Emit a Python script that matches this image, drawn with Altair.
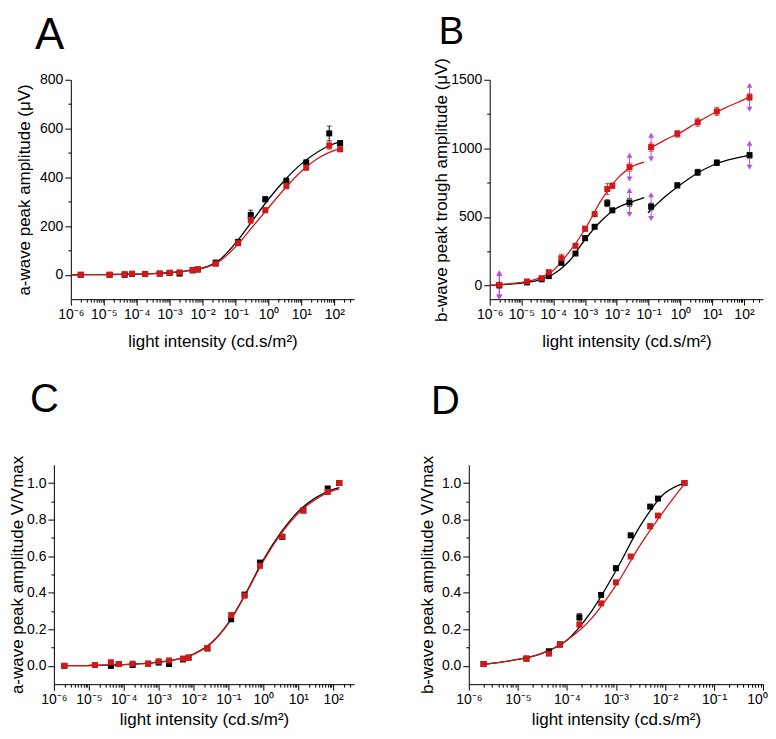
import altair as alt
import pandas as pd

FONT = "Liberation Sans"
BLACK = "#000000"
RED = "#d11919"
PURPLE = "#b84ee6"

# light intensities (cd.s/m2)
INTENSITY = [2.0e-6, 1.5e-5, 4.3e-5, 7.2e-5, 1.8e-4, 5.0e-4, 1.0e-3, 2.0e-3, 5.0e-3, 7.2e-3,
             2.5e-2, 0.12, 0.29, 0.8, 3.5, 14, 70, 150]

# ---- Panel A : a-wave amplitude (uV)
A_BLACK = [0, 0, 0, 4, 3, 5, 8, 5, 18, 22, 50, 135, 245, 310, 385, 460, 580, 540]
A_BLACK_ERR = [2, 2, 2, 2, 2, 2, 3, 3, 4, 4, 6, 8, 20, 10, 12, 12, 30, 10]
A_RED = [0, 0, 3, 4, 3, 5, 8, 10, 20, 22, 45, 130, 225, 265, 365, 440, 530, 515]
A_RED_ERR = [2, 2, 2, 2, 2, 2, 3, 3, 4, 4, 6, 8, 15, 10, 12, 12, 15, 10]
A_CURVE_X = [1e-6, 3.2e-6, 1e-5, 3.2e-5, 1e-4, 3.2e-4, 1e-3, 3.2e-3, 1e-2, 3.2e-2,
             0.1, 0.32, 1, 3.2, 10, 32, 100, 160]
A_CURVE_BLACK = [0, 0.5, 1, 2, 3, 5, 9, 16, 28, 60, 130, 220, 310, 390, 455, 505, 538, 546]
A_CURVE_RED = [0, 0.5, 1, 2, 3, 5, 8, 15, 26, 55, 115, 195, 275, 355, 425, 478, 510, 520]

# ---- Panel B : b-wave amplitude (uV)
B_X = [2.0e-6, 1.5e-5, 4.3e-5, 7.2e-5, 1.8e-4, 5.0e-4, 1.0e-3, 2.0e-3, 5.0e-3, 7.2e-3,
       2.5e-2, 0.12, 0.8, 3.5, 14, 150]
B_BLACK = [0, 22, 45, 68, 165, 233, 345, 428, 600, 548, 605, 575, 730, 825, 895, 950]
B_BLACK_ERR = [10, 8, 8, 10, 10, 12, 15, 15, 25, 15, 30, 25, 18, 22, 20, 20]
B_RED = [5, 29, 53, 97, 199, 289, 413, 520, 703, 727, 863, 1009, 1106, 1191, 1269, 1373]
B_RED_ERR = [10, 10, 10, 12, 30, 15, 20, 18, 40, 20, 30, 30, 25, 30, 30, 25]
B_SIG_INDEX = [0, 10, 11, 15]
B_LEFT_X = [1e-6, 3.2e-6, 1e-5, 3.2e-5, 1e-4, 3.2e-4, 1e-3, 3.2e-3, 1e-2, 3.2e-2, 7.2e-2]
B_LEFT_BLACK = [0, 8, 18, 38, 82, 178, 335, 470, 565, 612, 640]
B_LEFT_RED = [0, 10, 22, 50, 110, 245, 410, 620, 775, 870, 900]
B_RIGHT_X = [9.5e-2, 0.32, 1, 3.2, 10, 32, 100, 160]
B_RIGHT_BLACK = [530, 645, 735, 815, 875, 915, 942, 952]
B_RIGHT_RED = [990, 1060, 1115, 1185, 1250, 1305, 1355, 1378]

# ---- Panel C : normalised a-wave
C_BLACK = [0.0, 0.005, 0.0, 0.01, 0.005, 0.012, 0.018, 0.01, 0.035, 0.045, 0.095,
           0.255, 0.39, 0.565, 0.705, 0.85, 0.97, 1.0]
C_RED = [0.0, 0.005, 0.02, 0.01, 0.012, 0.012, 0.025, 0.03, 0.04, 0.045, 0.098,
         0.278, 0.384, 0.547, 0.707, 0.85, 0.951, 1.0]
C_ERR = [0.006] * 18
C_CURVE_X = [2e-6, 3.2e-6, 1e-5, 3.2e-5, 1e-4, 3.2e-4, 1e-3, 3.2e-3, 1e-2, 3.2e-2,
             0.1, 0.32, 1, 3.2, 10, 32, 100, 150]
C_CURVE_BLACK = [0.001, 0.001, 0.002, 0.004, 0.007, 0.012, 0.02, 0.036, 0.065, 0.125,
                 0.235, 0.40, 0.58, 0.73, 0.845, 0.92, 0.965, 0.975]
C_CURVE_RED = [0.001, 0.001, 0.002, 0.004, 0.007, 0.012, 0.02, 0.035, 0.063, 0.122,
               0.232, 0.395, 0.573, 0.722, 0.835, 0.912, 0.958, 0.968]

# ---- Panel D : normalised b-wave
D_X = [2.0e-6, 1.5e-5, 4.3e-5, 7.2e-5, 1.8e-4, 5.0e-4, 1.0e-3, 2.0e-3, 5.0e-3, 7.2e-3, 2.5e-2]
D_BLACK = [0.01, 0.04, 0.08, 0.118, 0.266, 0.388, 0.534, 0.714, 0.871, 0.915, 1.0]
D_RED = [0.01, 0.04, 0.067, 0.115, 0.226, 0.342, 0.457, 0.598, 0.764, 0.822, 1.0]
D_BLACK_ERR = [0.005, 0.005, 0.008, 0.008, 0.02, 0.01, 0.012, 0.01, 0.01, 0.01, 0.005]
D_RED_ERR = [0.005, 0.005, 0.01, 0.01, 0.012, 0.01, 0.01, 0.01, 0.015, 0.01, 0.005]
D_CURVE_X = [2e-6, 3.2e-6, 1e-5, 3.2e-5, 1e-4, 3.2e-4, 1e-3, 3.2e-3, 1e-2, 2.5e-2]
D_CURVE_BLACK = [0.008, 0.015, 0.035, 0.07, 0.14, 0.30, 0.52, 0.77, 0.945, 1.0]
D_CURVE_RED = [0.008, 0.015, 0.035, 0.07, 0.14, 0.26, 0.44, 0.665, 0.855, 0.995]

SUPERS = ["⁻⁶", "⁻⁵", "⁻⁴", "⁻³", "⁻²", "⁻¹", "⁰", "¹", "²"]
X_TITLE = "light intensity (cd.s/m²)"


def points_df(xs, black, black_err, red, red_err):
    rows = []
    for name, ys, errs in (("black", black, black_err), ("red", red, red_err)):
        for x, y, e in zip(xs, ys, errs):
            rows.append({"x": x, "y": y, "lo": y - e, "hi": y + e, "series": name})
    return pd.DataFrame(rows)


def curve_df(pieces):
    rows = []
    for seg, (name, xs, ys) in enumerate(pieces):
        for x, y in zip(xs, ys):
            rows.append({"x": x, "y": y, "series": name, "seg": f"{name}{seg}"})
    return pd.DataFrame(rows)


def x_axis(max_exp, max_val, title_pad, last_shift):
    vals = []
    for e in range(-6, max_exp + 1):
        for m in range(1, 10):
            v = float(f"{m}e{e}")
            if v <= max_val * 1.0001:
                vals.append(v)
    lg = "log(datum.value)/LN10"
    major = f"abs({lg} - round({lg})) < 0.000001"
    arr = "[" + ",".join(f"'{s}'" for s in SUPERS) + "]"
    kw = {}
    if last_shift:
        kw["labelOffset"] = {"condition": {"test": f"datum.value >= {max_val * 0.999}",
                                           "value": last_shift}, "value": 0}
    return alt.Axis(
        values=vals,
        title=X_TITLE,
        labelExpr=f"{major} ? '10' + {arr}[round({lg}) + 6] : ''",
        tickSize={"condition": {"test": major, "value": 6}, "value": 3},
        titlePadding=title_pad,
        **kw,
    )


def y_axis(values, major, fmt, title, title_padding, offset):
    return alt.Axis(
        values=values,
        format=fmt,
        title=title,
        labelExpr=f"({major}) ? datum.label : ''",
        tickSize={"condition": {"test": major, "value": 6}, "value": 3},
        titlePadding=title_padding,
        offset=offset,
    )


COLOR = alt.Color("series:N", scale=alt.Scale(domain=["black", "red"], range=[BLACK, RED]),
                  legend=None)


def panel(letter, lsize, ldx, ldy, pts, curves, xmax, max_exp, ydom, yvals, ymajor, yfmt,
          ytitle, tpad, width, height, x0, xtpad, last_shift=0, sig=None):
    xenc = alt.X("x:Q", scale=alt.Scale(type="log", domain=[1e-6, xmax], nice=False,
                                        range=[x0, width]),
                 axis=x_axis(max_exp, xmax, xtpad, last_shift))
    yaxis = y_axis(yvals, ymajor, yfmt, ytitle, tpad, -x0)
    yscale = alt.Scale(domain=ydom, nice=False, zero=False)
    yenc = alt.Y("y:Q", scale=yscale, axis=yaxis)

    line = alt.Chart(curves).mark_line(strokeWidth=1.3, interpolate="monotone").encode(
        x=xenc, y=yenc, color=COLOR, detail="seg:N")
    rule = alt.Chart(pts).mark_rule(strokeWidth=1).encode(
        x=xenc, y=alt.Y("lo:Q", scale=yscale, axis=yaxis), y2="hi:Q", color=COLOR)
    cap_lo = alt.Chart(pts).mark_tick(orient="horizontal", size=5, thickness=1).encode(
        x=xenc, y=alt.Y("lo:Q", scale=yscale, axis=yaxis), color=COLOR)
    cap_hi = alt.Chart(pts).mark_tick(orient="horizontal", size=5, thickness=1).encode(
        x=xenc, y=alt.Y("hi:Q", scale=yscale, axis=yaxis), color=COLOR)
    dots = alt.Chart(pts).mark_square(size=36, opacity=1).encode(
        x=xenc, y=yenc, color=COLOR)
    layers = [line, rule, cap_lo, cap_hi]
    if sig is not None:
        srule = alt.Chart(sig).mark_rule(color=PURPLE, strokeWidth=1, yOffset=-12,
                                         y2Offset=12).encode(
            x=xenc, y=yenc, y2="y:Q")
        up = alt.Chart(sig).mark_point(shape="triangle-up", filled=True, size=34,
                                       color=PURPLE, opacity=1, yOffset=-12).encode(
            x=xenc, y=yenc)
        down = alt.Chart(sig).mark_point(shape="triangle-down", filled=True, size=34,
                                         color=PURPLE, opacity=1, yOffset=12).encode(
            x=xenc, y=yenc)
        layers += [srule, up, down]
    layers.append(dots)
    label = alt.Chart(pd.DataFrame({"t": [letter]})).mark_text(
        font=FONT, fontSize=lsize, align="left", baseline="alphabetic", color="black"
    ).encode(text="t:N", x=alt.value(ldx), y=alt.value(ldy))
    layers.append(label)
    return alt.layer(*layers).properties(width=width, height=height)


# data tables
A_pts = points_df(INTENSITY, A_BLACK, A_BLACK_ERR, A_RED, A_RED_ERR)
A_cur = curve_df([("black", A_CURVE_X, A_CURVE_BLACK), ("red", A_CURVE_X, A_CURVE_RED)])
B_pts = points_df(B_X, B_BLACK, B_BLACK_ERR, B_RED, B_RED_ERR)
B_cur = curve_df([("black", B_LEFT_X, B_LEFT_BLACK), ("black", B_RIGHT_X, B_RIGHT_BLACK),
                  ("red", B_LEFT_X, B_LEFT_RED), ("red", B_RIGHT_X, B_RIGHT_RED)])
B_sig = pd.DataFrame(
    [{"x": B_X[i], "y": B_BLACK[i]} for i in B_SIG_INDEX]
    + [{"x": B_X[i], "y": B_RED[i]} for i in B_SIG_INDEX])
C_pts = points_df(INTENSITY, C_BLACK, C_ERR, C_RED, C_ERR)
C_cur = curve_df([("black", C_CURVE_X, C_CURVE_BLACK), ("red", C_CURVE_X, C_CURVE_RED)])
D_pts = points_df(D_X, D_BLACK, D_BLACK_ERR, D_RED, D_RED_ERR)
D_cur = curve_df([("black", D_CURVE_X, D_CURVE_BLACK), ("red", D_CURVE_X, D_CURVE_RED)])

XMAX = 10 ** 2.6
A_Y = list(range(0, 801, 100))
B_Y = list(range(0, 1501, 250))
N_Y = [round(i * 0.1, 1) for i in range(0, 11)]
ntest = "abs(datum.value*5 - round(datum.value*5)) < 0.000001"

pA = panel("A", 44, -19, -31, A_pts, A_cur, XMAX, 2, [-100, 800], A_Y,
           "datum.value % 200 == 0", "d", "a-wave peak amplitude (μV)", 6, 301, 220,
           x0=17, xtpad=12)
pB = panel("B", 38, -30, -36, B_pts, B_cur, XMAX, 2, [-100, 1500], B_Y,
           "datum.value % 500 == 0", "d", "b-wave peak trough amplitude (μV)", 0, 295, 220,
           x0=21, xtpad=12, sig=B_sig)
pC = panel("C", 40, -24, -53, C_pts, C_cur, XMAX, 2, [-0.1, 1.1], N_Y, ntest, ".1f",
           "a-wave peak amplitude V/Vmax", 0, 301, 220, x0=0, xtpad=5)
pD = panel("D", 40, -38, -51, D_pts, D_cur, 1.0, 0, [-0.1, 1.1], N_Y, ntest, ".1f",
           "b-wave peak amplitude V/Vmax", 5, 295, 220, x0=0, xtpad=5, last_shift=-6)

chart = alt.concat(
    pA, pB, pC, pD, columns=2, bounds="flush",
    spacing={"column": 115, "row": 166},
).properties(
    padding={"left": 0, "top": 5, "right": 0, "bottom": 0}
).configure_view(
    stroke=None
).configure_axis(
    labelFont=FONT, titleFont=FONT, labelFontSize=14, titleFontSize=17,
    titleFontWeight="normal", labelColor="black", titleColor="black",
    domainColor="black", tickColor="black", grid=False, labelFlush=False,
    labelOverlap=False, labelPadding=2, domainWidth=1, tickWidth=1,
)

chart.save("out.html", embed_options={"renderer": "svg", "actions": False})
